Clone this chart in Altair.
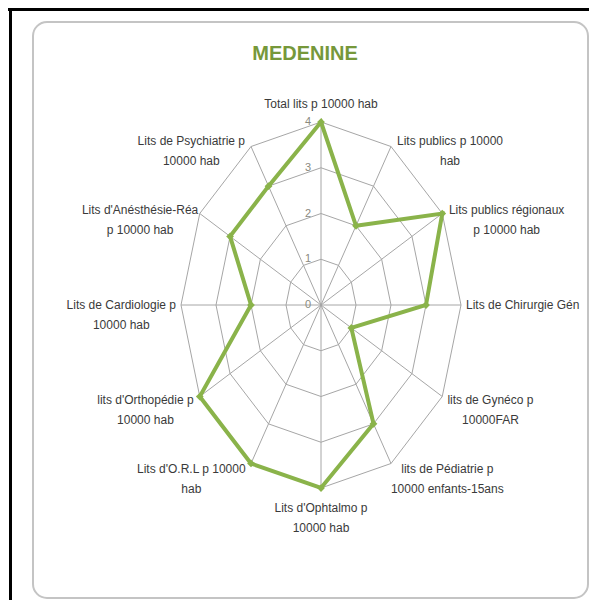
import altair as alt
import pandas as pd

# ---- data ----
categories = [
    "Total lits p 10000 hab",
    "Lits publics p 10000\nhab",
    "Lits publics régionaux\np 10000 hab",
    "Lits de Chirurgie Gén",
    "lits de Gynéco p\n10000FAR",
    "lits de Pédiatrie p\n10000 enfants-15ans",
    "Lits d'Ophtalmo  p\n10000 hab",
    "Lits d'O.R.L  p 10000\nhab",
    "lits d'Orthopédie p\n10000 hab",
    "Lits de Cardiologie p\n10000 hab",
    "Lits d'Anésthésie-Réa\np 10000 hab",
    "Lits de Psychiatrie p\n10000 hab",
]
values = [4, 2, 4, 3, 1, 3, 4, 4, 4, 2, 3, 3]
ticks = [0, 1, 2, 3, 4]
title_text = "MEDENINE"

n = len(categories)
rmax = max(ticks)

df = pd.DataFrame({"cat": categories, "value": values, "idx": list(range(n))})
df["maxlen"] = [max(len(s) for s in c.split("\n")) for c in categories]
grid_df = pd.DataFrame([(r, i) for r in ticks[1:] for i in range(n)], columns=["r", "idx"])
spoke_df = pd.DataFrame({"idx": list(range(n)), "r": [rmax] * n})
tick_df = pd.DataFrame({"t": ticks})

W, H = 581, 592
PX_PER_X = 35.0
xs = alt.Scale(domain=[-8.943, 7.657], nice=False, zero=False)
ys = alt.Scale(domain=[-6.448, 6.492], nice=False, zero=False)

theta = f"datum.idx * 2 * PI / {n}"
FONT = "Liberation Sans, Arial, sans-serif"
GREEN = "#8AB34A"
GRID = "#A6A6A6"
CHAR_W = 5.4  # approx. average glyph width at 12px

one = alt.Data(values=[{}])

panel = alt.Chart(one).mark_rect(
    fill="white", stroke="#C4C4C4", strokeWidth=2, cornerRadius=14
).encode(x=alt.value(25), x2=alt.value(580), y=alt.value(14), y2=alt.value(590))

frame_top = alt.Chart(one).mark_rule(color="black", strokeWidth=3).encode(
    x=alt.value(0), x2=alt.value(W), y=alt.value(1.5)
)
frame_left = alt.Chart(one).mark_rule(color="black", strokeWidth=3).encode(
    x=alt.value(2.5), y=alt.value(0), y2=alt.value(H)
)

rings = alt.Chart(grid_df).transform_calculate(
    th=theta,
    px="datum.r * sin(datum.th)",
    py="datum.r * cos(datum.th)",
).mark_line(interpolate="linear-closed", color=GRID, strokeWidth=1).encode(
    x=alt.X("px:Q", scale=xs, axis=None),
    y=alt.Y("py:Q", scale=ys, axis=None),
    detail="r:N",
    order="idx:Q",
)

spokes = alt.Chart(spoke_df).transform_calculate(
    th=theta,
    zero="0",
    px="datum.r * sin(datum.th)",
    py="datum.r * cos(datum.th)",
).mark_rule(color=GRID, strokeWidth=1).encode(
    x=alt.X("zero:Q", scale=xs, axis=None),
    y=alt.Y("zero:Q", scale=ys, axis=None),
    x2="px:Q",
    y2="py:Q",
)

tick_labels = alt.Chart(tick_df).transform_calculate(zero="0").mark_text(
    align="right", baseline="middle", dx=-10, fontSize=11, color="#8A8A7E", font=FONT
).encode(
    x=alt.X("zero:Q", scale=xs, axis=None),
    y=alt.Y("t:Q", scale=ys, axis=None),
    text="t:Q",
)

base = alt.Chart(df).transform_calculate(
    th=theta,
    px="datum.value * sin(datum.th)",
    py="datum.value * cos(datum.th)",
)
radar = base.mark_line(interpolate="linear-closed", color=GREEN, strokeWidth=4).encode(
    x=alt.X("px:Q", scale=xs, axis=None),
    y=alt.Y("py:Q", scale=ys, axis=None),
    order="idx:Q",
)
pts = base.mark_point(shape="diamond", filled=True, size=60, color=GREEN, opacity=1).encode(
    x=alt.X("px:Q", scale=xs, axis=None),
    y=alt.Y("py:Q", scale=ys, axis=None),
)

lab = alt.Chart(df).transform_calculate(
    th=theta,
    s="sin(datum.th)",
    c="cos(datum.th)",
    half=f"{CHAR_W / 2} * datum.maxlen",
    lx=(
        f"{rmax} * sin(datum.th) + (sin(datum.th) > 0.01 ? (5 + datum.half) : "
        f"(sin(datum.th) < -0.01 ? -(3 + datum.half) : 0)) / {PX_PER_X}"
    ),
    ly=f"{rmax} * 1.0375 * cos(datum.th)",
    cy=f"cos(datum.th) > 0 ? {rmax} * 1.077 : -{rmax} * 1.083",
)
label_style = dict(fontSize=12, color="#3A3A3A", font=FONT, lineBreak="\n", lineHeight=20, align="center")

side_labels = lab.transform_filter("abs(datum.s) > 0.01").mark_text(
    baseline="middle", **label_style
).encode(x=alt.X("lx:Q", scale=xs, axis=None), y=alt.Y("ly:Q", scale=ys, axis=None), text="cat:N")

top_labels = lab.transform_filter("abs(datum.s) <= 0.01 && datum.c > 0").mark_text(
    baseline="alphabetic", **label_style
).encode(x=alt.X("lx:Q", scale=xs, axis=None), y=alt.Y("cy:Q", scale=ys, axis=None), text="cat:N")

bottom_labels = lab.transform_filter("abs(datum.s) <= 0.01 && datum.c < 0").mark_text(
    baseline="top", **label_style
).encode(x=alt.X("lx:Q", scale=xs, axis=None), y=alt.Y("cy:Q", scale=ys, axis=None), text="cat:N")

title = alt.Chart(alt.Data(values=[{"t": title_text}])).mark_text(
    align="center", baseline="alphabetic", fontSize=20, fontWeight="bold", color="#76983A", font=FONT
).encode(x=alt.value(297), y=alt.value(52), text="t:N")

chart = alt.layer(
    panel, frame_top, frame_left, rings, spokes, tick_labels, radar, pts,
    side_labels, top_labels, bottom_labels, title,
).properties(
    width=W, height=H, autosize=alt.AutoSizeParams(type="none"), padding=0, background="white"
).configure_view(strokeWidth=0)

chart.save("out.html", embed_options={"renderer": "svg", "actions": False})
